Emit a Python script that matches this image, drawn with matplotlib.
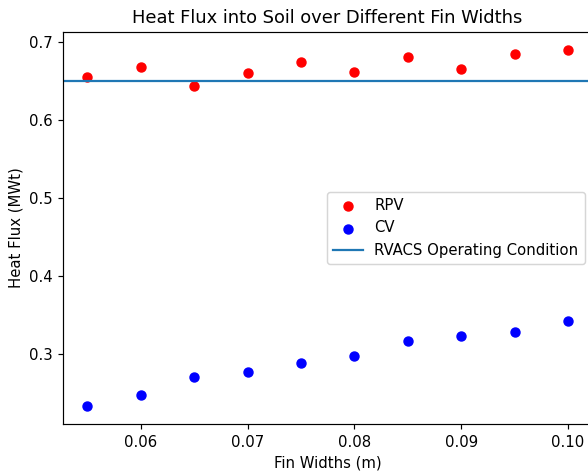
import matplotlib
matplotlib.use("Agg")
import matplotlib.pyplot as plt

fin_widths = [0.055, 0.060, 0.065, 0.070, 0.075, 0.080, 0.085, 0.090, 0.095, 0.100]
rpv_flux = [0.6553, 0.668, 0.6434, 0.6604, 0.6745, 0.6613, 0.680, 0.6655, 0.6838, 0.690]
cv_flux = [0.2325, 0.2474, 0.2701, 0.2765, 0.2876, 0.2966, 0.3158, 0.3222, 0.3278, 0.3415]
operating_condition = 0.65

DPI = 107
fig = plt.figure(figsize=(588 / DPI, 474 / DPI), dpi=DPI)
ax = fig.add_axes([0.1077, 0.1049, 0.8991, 0.8282])

ax.scatter(fin_widths, rpv_flux, color="red", label="RPV")
ax.scatter(fin_widths, cv_flux, color="blue", label="CV")
ax.axhline(operating_condition, label="RVACS Operating Condition")

ax.set_xticks([0.06, 0.07, 0.08, 0.09, 0.10])
ax.set_xticklabels(["0.06", "0.07", "0.08", "0.09", "0.10"])
ax.set_title("Heat Flux into Soil over Different Fin Widths")
ax.set_xlabel("Fin Widths (m)")
ax.set_ylabel("Heat Flux (MWt)")
ax.legend(loc="center right")

fig.savefig("out.png", dpi=DPI)
